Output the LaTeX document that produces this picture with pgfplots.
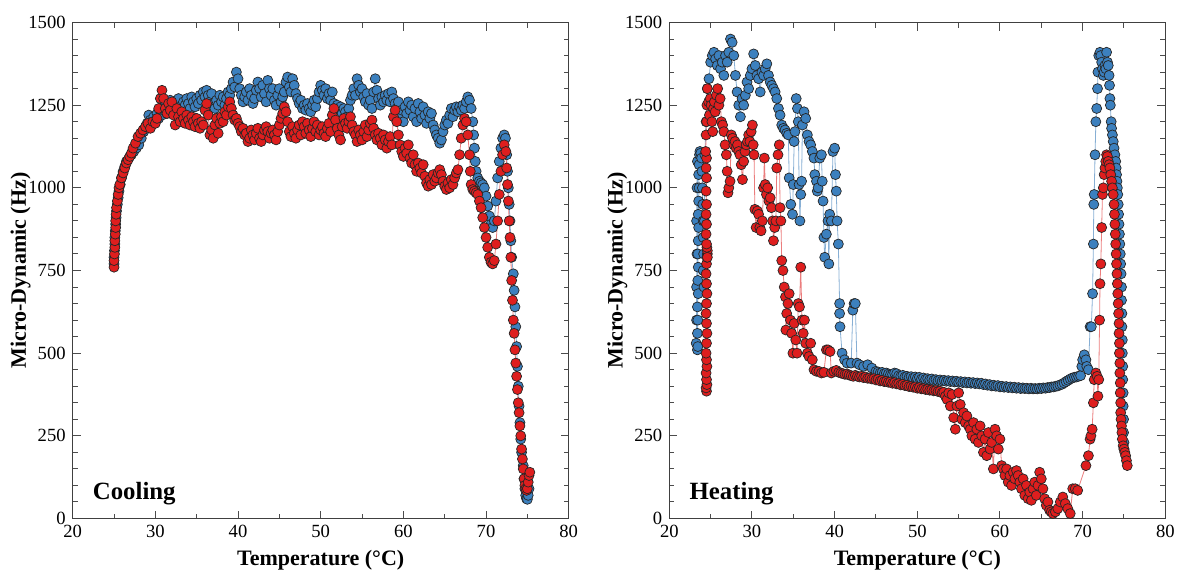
\documentclass[border=0pt]{standalone}
\usepackage{fontspec}
\setmainfont{Liberation Serif}
\usepackage{pgfplots}
\pgfplotsset{compat=1.18}

\definecolor{cblue}{RGB}{60,128,190}
\definecolor{cred}{RGB}{222,30,30}
\definecolor{lblue}{RGB}{135,175,212}
\definecolor{lred}{RGB}{235,125,125}

\pgfplotsset{
 myaxis/.style={
  scale only axis, width=248pt, height=248pt,
  xmin=20, xmax=80, ymin=0, ymax=1500,
  xtick={20,30,...,80}, ytick={0,250,...,1500},
  minor x tick num=1, minor y tick num=4,
  tick align=inside,
  major tick length=4pt, minor tick length=2.5pt,
  tick style={black!70, line width=0.5pt},
  axis line style={black!75, line width=0.6pt},
  /pgf/number format/assume math mode=true,
  /pgf/number format/1000 sep={},
  ticklabel style={font=\fontsize{9.3}{10}\selectfont},
  label style={font=\fontsize{11}{12}\selectfont\bfseries},
  xlabel={Temperature (°C)}, ylabel={Micro-Dynamic (Hz)},
  xlabel style={yshift=1pt},
  ylabel style={yshift=-8pt},
 },
 bser/.style={color=lblue, line width=0.4pt, mark=*, mark size=2.5pt,
   mark options={fill=cblue, draw=black!85, line width=0.35pt}},
 rser/.style={color=lred, line width=0.4pt, mark=*, mark size=2.5pt,
   mark options={fill=cred, draw=black!85, line width=0.35pt}},
}

\begin{document}
\begin{tikzpicture}
\useasboundingbox (0,0) rectangle (591.5pt,287.5pt);

% ---------------- Cooling ----------------
\begin{axis}[myaxis, at={(36.35pt,28.25pt)}, anchor=south west]
\addplot[bser] coordinates {
(25.0,770) (25.0,790) (25.05,810) (25.1,830) (25.1,850) (25.15,870) (25.2,890) (25.25,910) (25.3,930) (25.4,950)
(25.5,970) (25.6,990) (25.75,1010) (25.9,1030) (26.1,1050) (26.3,1065) (26.5,1080) (26.8,1090) (27.1,1100) (27.4,1110)
(27.7,1120) (28.0,1130) (28.3,1150) (28.6,1170) (28.8,1185)
(29.0,1195) (29.2,1220) (29.4,1205) (29.6,1190) (29.8,1215)
(30.0,1200) (30.2,1225) (30.4,1210) (30.6,1240) (30.8,1220)
(31.0,1235) (31.2,1255) (31.4,1225) (31.6,1250) (31.8,1265)
(32.0,1240) (32.2,1260) (32.4,1235) (32.6,1255) (32.8,1270)
(33.0,1245) (33.2,1230) (33.4,1260) (33.6,1250) (33.8,1270)
(34.0,1255) (34.2,1240) (34.4,1275) (34.6,1260) (34.8,1245)
(35.0,1270) (35.2,1255) (35.4,1280) (35.6,1265) (35.8,1290)
(36.0,1275) (36.2,1295) (36.4,1280) (36.6,1260) (36.8,1285)
(37.0,1255) (37.2,1240) (37.4,1265) (37.6,1250) (37.8,1280)
(38.0,1260) (38.2,1275) (38.4,1250) (38.6,1270) (38.8,1290)
(39.0,1280) (39.2,1300) (39.4,1320) (39.6,1305) (39.8,1350)
(40.0,1330) (40.2,1300) (40.4,1280) (40.6,1260) (40.8,1275)
(41.0,1290) (41.2,1265) (41.4,1300) (41.6,1280) (41.8,1255)
(42.0,1270) (42.2,1295) (42.4,1320) (42.6,1300) (42.8,1275)
(43.0,1310) (43.2,1285) (43.4,1260) (43.6,1325) (43.8,1300)
(44.0,1280) (44.2,1300) (44.4,1265) (44.6,1250) (44.8,1280)
(45.0,1300) (45.2,1260) (45.4,1275) (45.6,1290) (45.8,1320)
(46.0,1335) (46.2,1305) (46.4,1290) (46.6,1330) (46.8,1310)
(47.0,1285) (47.2,1270) (47.4,1255) (47.6,1265) (47.8,1240)
(48.0,1250) (48.2,1235) (48.4,1255) (48.6,1240) (48.8,1230)
(49.0,1250) (49.2,1265) (49.4,1245) (49.6,1270) (49.8,1290)
(50.0,1310) (50.2,1295) (50.4,1280) (50.6,1300) (50.8,1270)
(51.0,1285) (51.2,1265) (51.4,1290) (51.6,1255) (51.8,1240)
(52.0,1250) (52.2,1235) (52.4,1245) (52.6,1225) (52.8,1240)
(53.0,1230) (53.2,1215) (53.4,1240) (53.6,1265) (53.8,1280)
(54.0,1300) (54.2,1280) (54.4,1330) (54.6,1310) (54.8,1290)
(55.0,1300) (55.2,1275) (55.4,1260) (55.6,1285) (55.8,1250)
(56.0,1265) (56.2,1240) (56.4,1290) (56.6,1330) (56.8,1295)
(57.0,1270) (57.2,1250) (57.4,1275) (57.6,1260) (57.8,1280)
(58.0,1265) (58.2,1285) (58.4,1260) (58.6,1290) (58.8,1270)
(59.0,1255) (59.2,1240) (59.4,1260) (59.6,1215) (59.8,1235)
(60.0,1200) (60.2,1245) (60.4,1225) (60.6,1260) (60.8,1235)
(61.0,1250) (61.2,1215) (61.4,1240) (61.6,1200) (61.8,1255)
(62.0,1230) (62.2,1210) (62.4,1245) (62.6,1220) (62.8,1195)
(63.0,1230) (63.2,1210) (63.4,1225) (63.6,1190) (63.8,1175)
(64.0,1160) (64.2,1150) (64.4,1135) (64.6,1145) (64.8,1170)
(65.0,1190) (65.2,1205) (65.4,1195) (65.6,1220) (65.8,1240)
(66.0,1215) (66.2,1235) (66.4,1245) (66.6,1230) (66.8,1245)
(67.0,1235) (67.2,1250) (67.4,1240) (67.6,1260) (67.8,1275)
(68.0,1265) (68.2,1240) (68.4,1200) (68.5,1160) (68.6,1120)
(68.7,1080) (68.8,1050) (69.0,1030) (69.2,1020) (69.4,1015) (69.6,1010) (69.8,1000) (70.0,975) (70.2,945) (70.4,915)
(70.6,890) (70.8,880) (71.0,900) (71.2,960) (71.4,1030) (71.6,1080) (71.8,1120) (72.0,1150) (72.2,1160) (72.35,1150)
(72.5,1100) (72.6,1050) (72.7,1000) (72.8,950) (72.9,900) (73.0,840) (73.1,790) (73.3,740) (73.4,690) (73.5,640)
(73.6,580) (73.7,520) (73.8,460) (73.9,400) (74.0,340) (74.1,290) (74.2,240) (74.3,200) (74.5,160) (74.6,120)
(74.7,90) (74.8,70) (74.9,60) (75.0,58) (75.1,70) (75.2,90)
};
\addplot[rser] coordinates {
(25.0,760) (25.0,780) (25.05,800) (25.1,820) (25.1,840) (25.15,860) (25.2,880) (25.2,900) (25.25,920) (25.3,940)
(25.4,960) (25.5,980) (25.6,1000) (25.7,1010) (25.9,1030) (26.1,1045) (26.3,1060) (26.5,1075) (26.7,1085) (26.9,1095)
(27.1,1105) (27.3,1120) (27.6,1135) (27.9,1155) (28.2,1165) (28.5,1175) (28.8,1185) (29.1,1195) (29.4,1180) (29.7,1200)
(30.0,1195) (30.2,1210) (30.4,1240) (30.6,1270) (30.8,1295) (31.0,1270) (31.2,1240) (31.4,1225) (31.6,1255) (31.8,1235)
(32.0,1260) (32.2,1220) (32.4,1190) (32.6,1240) (32.8,1215)
(33.0,1200) (33.2,1230) (33.4,1210) (33.6,1195) (33.8,1220)
(34.0,1205) (34.2,1190) (34.4,1215) (34.6,1200) (34.8,1185)
(35.0,1210) (35.2,1195) (35.4,1180) (35.6,1200) (35.8,1190)
(36.0,1235) (36.2,1255) (36.4,1220) (36.6,1160) (36.8,1175)
(37.0,1150) (37.2,1190) (37.4,1210) (37.6,1165) (37.8,1195)
(38.0,1215) (38.2,1200) (38.4,1230) (38.6,1220) (38.8,1245)
(39.0,1260) (39.2,1240) (39.4,1220) (39.6,1205) (39.8,1210)
(40.0,1195) (40.2,1185) (40.4,1170) (40.6,1180) (40.8,1160)
(41.0,1165) (41.2,1140) (41.4,1150) (41.6,1175) (41.8,1160)
(42.0,1145) (42.2,1165) (42.4,1180) (42.6,1150) (42.8,1140)
(43.0,1160) (43.2,1175) (43.4,1185) (43.6,1170) (43.8,1150)
(44.0,1165) (44.2,1175) (44.4,1160) (44.6,1145) (44.8,1170)
(45.0,1190) (45.2,1210) (45.4,1225) (45.6,1245) (45.8,1230)
(46.0,1200) (46.2,1170) (46.4,1155) (46.6,1185) (46.8,1165)
(47.0,1150) (47.2,1175) (47.4,1190) (47.6,1160) (47.8,1200)
(48.0,1185) (48.2,1165) (48.4,1195) (48.6,1175) (48.8,1155)
(49.0,1180) (49.2,1200) (49.4,1170) (49.6,1190) (49.8,1160)
(50.0,1175) (50.2,1185) (50.4,1165) (50.6,1155) (50.8,1180)
(51.0,1195) (51.2,1170) (51.4,1220) (51.6,1240) (51.8,1205)
(52.0,1180) (52.2,1160) (52.4,1145) (52.6,1185) (52.8,1210)
(53.0,1195) (53.2,1180) (53.4,1200) (53.6,1215) (53.8,1190)
(54.0,1170) (54.2,1160) (54.4,1140) (54.6,1175) (54.8,1160)
(55.0,1145) (55.2,1170) (55.4,1190) (55.6,1155) (55.8,1175)
(56.0,1195) (56.2,1205) (56.4,1180) (56.6,1160) (56.8,1145)
(57.0,1165) (57.2,1150) (57.4,1130) (57.6,1160) (57.8,1145)
(58.0,1120) (58.2,1140) (58.4,1155) (58.6,1130) (58.8,1215)
(59.0,1235) (59.2,1200) (59.4,1160) (59.6,1130) (59.8,1110)
(60.0,1095) (60.2,1120) (60.4,1105) (60.6,1130) (60.8,1090)
(61.0,1075) (61.2,1100) (61.4,1070) (61.6,1050) (61.8,1075)
(62.0,1060) (62.2,1045) (62.4,1070) (62.6,1035) (62.8,1015)
(63.0,1005) (63.2,1025) (63.4,1010) (63.6,1040) (63.8,1020)
(64.0,1030) (64.2,1045) (64.4,1055) (64.6,1040) (64.8,1020)
(65.0,1005) (65.2,995) (65.4,1015) (65.6,1000) (65.8,1025)
(66.0,1010) (66.2,1030) (66.4,1045) (66.6,1055) (66.8,1100)
(67.0,1150) (67.2,1190) (67.4,1210) (67.6,1200) (67.8,1160)
(68.0,1100) (68.1,1050) (68.2,1010) (68.4,995) (68.6,990) (68.8,985) (69.0,980) (69.2,960) (69.4,940) (69.6,910)
(69.8,880) (70.0,850) (70.2,820) (70.4,790) (70.6,775) (70.8,770) (71.0,780) (71.2,830) (71.4,900) (71.6,980)
(71.8,1050) (72.0,1100) (72.2,1130) (72.4,1110) (72.5,1060) (72.6,1010) (72.7,960) (72.8,900) (72.9,850) (73.0,790)
(73.1,720) (73.2,660) (73.3,600) (73.4,560) (73.5,510) (73.6,470) (73.7,430) (73.8,390) (73.9,350) (74.0,320)
(74.1,280) (74.2,250) (74.3,210) (74.4,180) (74.5,150) (74.6,120) (74.7,100) (74.8,90) (74.9,85) (75.0,90)
(75.1,110) (75.2,130) (75.3,140)
};
\node[anchor=base west, inner sep=0pt, font=\fontsize{12.4}{13}\selectfont\bfseries] at (axis cs:22.4,56) {Cooling};
\end{axis}

% ---------------- Heating ----------------
\begin{axis}[myaxis, at={(334.65pt,28.25pt)}, anchor=south west]
\addplot[bser] coordinates {
(23.25,530) (23.3,600) (23.3,700) (23.35,800) (23.3,900) (23.35,1000) (23.4,1080)
(23.4,510) (23.45,520) (23.4,560) (23.45,600) (23.4,640) (23.5,680) (23.45,720) (23.5,760) (23.45,800) (23.5,840)
(23.55,880) (23.5,920) (23.55,960) (23.6,1000) (23.55,1040) (23.6,1070) (23.65,1100) (23.7,1110) (23.8,1105) (23.9,1090)
(23.95,1050) (24.0,1000) (24.05,950) (24.1,900) (24.1,850) (24.15,800) (24.1,750) (24.2,700) (24.25,900) (24.3,1100)
(24.45,1200) (24.6,1300) (24.8,1330) (25.0,1380) (25.2,1400) (25.4,1410) (25.6,1390) (25.8,1370) (26.0,1400) (26.2,1360)
(26.4,1380) (26.6,1340) (26.8,1400) (27.0,1380) (27.2,1410) (27.4,1450) (27.6,1440) (27.8,1400) (28.0,1340) (28.2,1290)
(28.4,1250) (28.6,1215) (28.8,1270) (29.0,1250) (29.2,1280) (29.4,1320) (29.6,1300) (29.8,1340) (30.0,1360) (30.2,1405)
(30.4,1370) (30.6,1340) (30.8,1330) (31.0,1290) (31.2,1350) (31.4,1340) (31.6,1360) (31.8,1375) (32.0,1340) (32.2,1320)
(32.4,1310) (32.6,1300) (32.8,1290) (33.0,1270) (33.2,1240) (33.4,1220) (33.6,1190) (33.8,1180) (34.0,1175) (34.2,1165)
(34.4,1160) (34.5,1030) (34.7,950) (34.9,920) (35.0,1010) (35.1,1140) (35.2,1170) (35.35,1270) (35.5,1240) (35.6,1200)
(35.7,1010) (35.8,900) (35.9,980) (36.0,1020) (36.1,1190) (36.3,1230) (36.5,1210) (36.7,1160) (36.9,1140) (37.1,1130)
(37.3,1110) (37.5,1090) (37.6,1040) (37.8,1020) (37.9,990) (38.0,1000) (38.2,1090) (38.4,1100) (38.5,1020) (38.6,960)
(38.7,850) (38.8,790) (39.0,860) (39.2,900) (39.3,770) (39.4,920) (39.6,900) (39.8,1110) (40.0,1120) (40.1,1040)
(40.2,990) (40.3,900) (40.45,830) (40.6,650) (40.6,620) (40.65,580) (40.9,500) (41.2,480) (41.5,470) (42.0,470)
(42.2,630) (42.35,650) (42.5,650) (42.7,470) (43.0,465) (43.5,460) (44.0,465) (44.5,455) (45.0,445)
(45.25,443) (45.5,440) (45.75,442) (46.0,438) (46.25,440) (46.5,437) (46.75,435) (47.0,436) (47.25,440) (47.5,438)
(47.75,432) (48.0,430) (48.25,433) (48.5,428) (48.75,430) (49.0,427) (49.25,429) (49.5,425) (49.75,428) (50.0,424)
(50.25,427) (50.5,422) (50.75,425) (51.0,421) (51.25,423) (51.5,420) (51.75,422) (52.0,418) (52.25,420) (52.5,417)
(52.75,419) (53.0,416) (53.25,418) (53.5,415) (53.75,417) (54.0,414) (54.25,416) (54.5,413) (54.75,415) (55.0,412)
(55.25,414) (55.5,411) (55.75,413) (56.0,410) (56.25,412) (56.5,409) (56.75,411) (57.0,408) (57.25,410) (57.5,407)
(57.75,409) (58.0,405) (58.25,407) (58.5,403) (58.75,405) (59.0,401) (59.25,403) (59.5,400) (59.75,402) (60.0,398)
(60.25,400) (60.5,397) (60.75,399) (61.0,396) (61.25,398) (61.5,395) (61.75,397) (62.0,394) (62.25,396) (62.5,393)
(62.75,395) (63.0,393) (63.25,394) (63.5,392) (63.75,394) (64.0,392) (64.25,393) (64.5,392) (64.75,394) (65.0,393)
(65.25,395) (65.5,394) (65.75,396) (66.0,396) (66.25,398) (66.5,398) (66.75,400) (67.0,401) (67.25,404) (67.5,406)
(67.75,410) (68.0,414) (68.25,418) (68.5,422) (68.75,425) (69.0,427) (69.25,428) (69.5,430) (69.75,432) (69.9,460)
(70.0,480) (70.2,495) (70.4,480) (70.5,460) (70.7,450) (70.9,580) (71.05,580) (71.2,680) (71.3,830) (71.35,950)
(71.4,980) (71.5,1100) (71.6,1200) (71.7,1240) (71.8,1300) (71.85,1350) (71.95,1400) (72.1,1410) (72.2,1400) (72.3,1380)
(72.4,1360) (72.5,1340) (72.6,1350) (72.7,1370) (72.8,1360) (72.9,1410) (73.0,1380) (73.1,1370) (73.2,1340) (73.25,1310)
(73.3,1270) (73.35,1250) (73.45,1200) (73.5,1180) (73.6,1160) (73.7,1140) (73.8,1120) (73.9,1100) (74.0,1080) (74.05,1060)
(74.1,1040) (74.15,1020) (74.2,1000) (74.25,980) (74.3,950) (74.35,920) (74.4,890) (74.45,860) (74.5,830) (74.55,800)
(74.6,770) (74.65,740) (74.7,700) (74.7,660) (74.75,620) (74.75,580) (74.8,540) (74.8,500) (74.85,460) (74.85,420)
(74.9,380) (74.9,340) (74.95,300) (74.95,260) (75.0,230) (75.0,210)
};
\addplot[rser] coordinates {
(24.5,385) (24.45,395) (24.55,405) (24.5,420) (24.45,440) (24.55,460) (24.5,480) (24.45,500) (24.5,530) (24.55,560)
(24.5,590) (24.45,620) (24.5,650) (24.55,680) (24.5,710) (24.45,740) (24.5,770) (24.55,790) (24.6,800) (24.6,810)
(24.55,820) (24.6,790) (24.5,830) (24.45,860) (24.5,890) (24.45,920) (24.5,950) (24.45,990) (24.5,1030) (24.45,1060)
(24.5,1090) (24.4,1110) (24.45,1160) (24.5,1200) (24.55,1250) (24.6,1300) (24.75,1260) (24.85,1220) (24.95,1270) (25.05,1250)
(25.15,1200) (25.25,1170) (25.35,1240) (25.45,1260) (25.55,1230) (25.7,1280) (25.85,1300) (26.0,1250) (26.15,1270) (26.3,1200)
(26.45,1190) (26.6,1170) (26.75,1130) (26.9,1100) (27.0,1050) (27.1,985) (27.2,1000) (27.35,1020) (27.5,1160) (27.65,1150)
(27.8,1130) (27.95,1140) (28.1,1120) (28.25,1130) (28.4,1110) (28.55,1100) (28.7,1070) (28.85,1025) (29.0,1080) (29.15,1110)
(29.3,1130) (29.45,1140) (29.6,1160) (29.75,1140) (29.9,1170) (30.05,1190) (30.15,1130) (30.25,1100) (30.35,935) (30.5,880)
(30.65,930) (30.8,920) (30.95,880) (31.1,870) (31.25,900) (31.4,1000) (31.5,1090) (31.6,1010) (31.75,980) (31.9,1000)
(32.05,960) (32.2,970) (32.35,940) (32.5,900) (32.6,840) (32.75,880) (32.9,900) (33.0,1060) (33.15,1100) (33.3,1130)
(33.4,940) (33.5,900) (33.6,780) (33.75,750) (33.9,700) (34.05,670) (34.1,570) (34.2,620) (34.35,650) (34.5,680)
(34.65,600) (34.8,560) (34.95,500) (35.1,590) (35.3,540) (35.45,500) (35.6,650) (35.75,640) (35.9,760) (36.05,600)
(36.2,560) (36.35,600) (36.5,530) (36.7,500) (36.9,490) (37.1,530) (37.3,480) (37.5,450) (37.8,445) (38.1,445)
(38.4,440) (38.7,442) (39.0,510) (39.2,510) (39.45,505) (39.6,440) (39.9,445) (40.2,448) (40.5,442)
(40.75,440) (41.0,438) (41.25,436) (41.5,437) (41.75,434) (42.0,432) (42.25,430) (42.5,433) (42.75,430) (43.0,428)
(43.25,430) (43.5,426) (43.75,428) (44.0,424) (44.25,425) (44.5,422) (44.75,423) (45.0,419) (45.25,421) (45.5,416)
(45.75,418) (46.0,414) (46.25,415) (46.5,412) (46.75,413) (47.0,409) (47.25,411) (47.5,407) (47.75,408) (48.0,404)
(48.25,406) (48.5,402) (48.75,403) (49.0,399) (49.25,400) (49.5,397) (49.75,398) (50.0,394) (50.25,396) (50.5,392)
(50.75,393) (51.0,390) (51.25,391) (51.5,388) (51.75,389) (52.0,386) (52.25,387) (52.5,384) (52.75,385) (53.0,380)
(53.2,382) (53.4,370) (53.6,360) (53.8,380) (54.0,340) (54.2,375) (54.4,305) (54.6,270) (54.8,340) (55.0,380)
(55.2,345) (55.4,300) (55.6,320) (55.8,290) (56.0,310) (56.2,280) (56.4,270) (56.6,250) (56.8,290) (57.0,240)
(57.2,270) (57.4,230) (57.6,280) (57.8,250) (58.0,200) (58.2,240) (58.4,190) (58.6,260) (58.8,210) (59.0,230)
(59.2,150) (59.4,270) (59.6,250) (59.8,210) (60.0,240) (60.2,160) (60.4,150) (60.6,130) (60.8,150) (61.0,110)
(61.2,130) (61.4,100) (61.6,140) (61.8,120) (62.0,145) (62.2,130) (62.4,110) (62.6,90) (62.8,120) (63.0,70)
(63.2,100) (63.4,60) (63.6,80) (63.8,55) (64.0,90) (64.2,110) (64.4,70) (64.6,100) (64.8,140) (65.0,120)
(65.2,90) (65.4,60) (65.6,40) (65.8,50) (66.0,25) (66.2,20) (66.4,15) (66.7,20) (67.0,30) (67.3,50)
(67.6,65) (67.9,45) (68.2,30) (68.5,15) (68.8,90) (69.1,90) (69.4,85) (70.4,160) (70.7,190) (70.9,240)
(71.0,250) (71.15,270) (71.3,350) (71.4,420) (71.6,440) (71.75,430) (71.85,370) (71.95,420) (72.05,600) (72.1,710)
(72.2,770) (72.3,880) (72.4,980) (72.5,1000) (72.6,1040) (72.7,1060) (72.8,1080) (72.9,1100) (73.0,1095) (73.1,1080)
(73.2,1070) (73.3,1060) (73.4,1040) (73.5,1020) (73.6,1000) (73.7,980) (73.8,950) (73.85,920) (73.9,890) (73.95,860)
(74.0,830) (74.05,800) (74.1,770) (74.15,740) (74.2,710) (74.25,680) (74.3,650) (74.35,620) (74.4,590) (74.4,560)
(74.45,530) (74.45,500) (74.5,470) (74.5,440) (74.55,410) (74.55,380) (74.6,350) (74.6,320) (74.65,300) (74.7,280)
(74.75,260) (74.8,240) (74.9,220) (75.0,210) (75.1,200) (75.2,190) (75.3,175) (75.4,160)
};
\node[anchor=base west, inner sep=0pt, font=\fontsize{12.4}{13}\selectfont\bfseries] at (axis cs:22.4,56) {Heating};
\end{axis}
\end{tikzpicture}
\end{document}
